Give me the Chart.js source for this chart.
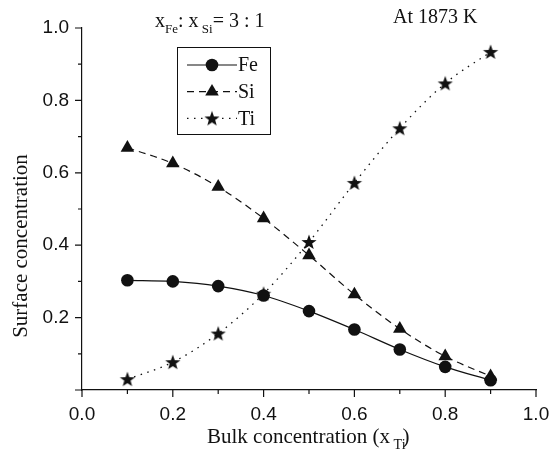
<!DOCTYPE html>
<html>
<head>
<meta charset="utf-8">
<script src="https://cdn.jsdelivr.net/npm/chart.js@4.4.1/dist/chart.umd.min.js"></script>
<style>
  html, body { margin: 0; padding: 0; background: #fff; }
  #wrap { width: 550px; height: 459px; }
</style>
</head>
<body>
<div id="wrap"><canvas id="chart" width="550" height="459"></canvas></div>
<script>
// ===== DATA =====
const bulkTi = [0.1, 0.2, 0.3, 0.4, 0.5, 0.6, 0.7, 0.8, 0.9];
const surfFe = [0.303, 0.300, 0.287, 0.261, 0.218, 0.167, 0.112, 0.064, 0.027];
const surfSi = [0.669, 0.626, 0.561, 0.474, 0.372, 0.264, 0.169, 0.093, 0.038];
const surfTi = [0.030, 0.077, 0.156, 0.266, 0.409, 0.572, 0.723, 0.847, 0.934];
const seriesNames = ['Fe', 'Si', 'Ti'];

const ink = '#111';
const serif = '"Liberation Serif", "Times New Roman", serif';
const sans = '"Liberation Sans", Arial, sans-serif';

// filled five point star used as point style
function makeStar(outer, inner) {
  const c = document.createElement('canvas');
  const s = Math.ceil(outer * 2 + 2);
  c.width = s; c.height = s;
  const g = c.getContext('2d');
  g.fillStyle = ink;
  g.beginPath();
  for (let i = 0; i < 10; i++) {
    const r = i % 2 ? inner : outer;
    const a = -Math.PI / 2 + i * Math.PI / 5;
    const px = s / 2 + r * Math.cos(a), py = s / 2 + 0.6 + r * Math.sin(a);
    i ? g.lineTo(px, py) : g.moveTo(px, py);
  }
  g.closePath();
  g.fill();
  return c;
}
const starImg = makeStar(8, 3.3);

const pts = ys => bulkTi.map((x, i) => ({ x, y: ys[i] }));
const isMajor = v => Math.round(v * 10) % 2 === 0;

function drawMarker(ctx, style, x, y, r) {
  ctx.fillStyle = ink;
  if (style === 'star') { ctx.drawImage(starImg, x - starImg.width / 2, y - starImg.height / 2); return; }
  ctx.beginPath();
  if (style === 'circle') ctx.arc(x, y, r, 0, Math.PI * 2);
  else {
    ctx.moveTo(x, y - r);
    ctx.lineTo(x + r * 0.866, y + r / 2);
    ctx.lineTo(x - r * 0.866, y + r / 2);
    ctx.closePath();
  }
  ctx.fill();
}

// text with subscripts: parts = [[text, isSub], ...]
function drawRich(ctx, parts, x, y, size) {
  parts.forEach(([t, sub]) => {
    ctx.font = (sub ? Math.round(size * 0.65) : size) + 'px ' + serif;
    ctx.fillText(t, x, sub ? y + size * 0.3 : y);
    x += ctx.measureText(t).width;
  });
  return x;
}

const decor = {
  id: 'decor',
  afterDraw(chart) {
    const { ctx, chartArea: a, scales: { x, y } } = chart;
    ctx.save();
    ctx.strokeStyle = ink;
    ctx.lineWidth = 1.2;
    ctx.beginPath();
    x.ticks.forEach(t => {
      const px = x.getPixelForValue(t.value);
      ctx.moveTo(px, a.bottom); ctx.lineTo(px, a.bottom + (isMajor(t.value) ? 7 : 4));
    });
    y.ticks.forEach(t => {
      const py = y.getPixelForValue(t.value);
      ctx.moveTo(a.left, py); ctx.lineTo(a.left - (isMajor(t.value) ? 7 : 4), py);
    });
    ctx.stroke();

    // legend box
    const bx = 177, by = 47, bw = 93, bh = 87;
    ctx.lineWidth = 1;
    ctx.strokeRect(bx + 0.5, by + 0.5, bw, bh);
    chart.data.datasets.forEach((ds, i) => {
      const ry = by + 18 + i * 26.7;
      ctx.setLineDash(ds.borderDash || []);
      ctx.lineWidth = ds.borderWidth;
      ctx.beginPath(); ctx.moveTo(bx + 10, ry); ctx.lineTo(bx + 60, ry); ctx.stroke();
      ctx.setLineDash([]);
      drawMarker(ctx, ds.legendMarker, bx + 35, ry, ds.pointRadius);
      ctx.fillStyle = ink;
      ctx.font = '20px ' + serif;
      ctx.textBaseline = 'middle';
      ctx.fillText(ds.label, bx + 61, ry + 1);
    });

    // annotations and axis titles
    ctx.fillStyle = ink;
    ctx.textBaseline = 'alphabetic';
    drawRich(ctx, [['x', 0], ['Fe', 1], [': x', 0], [' Si', 1], ['= 3 : 1', 0]], 155, 27, 20);
    ctx.font = '20px ' + serif;
    ctx.fillText('At 1873 K', 393, 22.5);

    const end = drawRich(ctx, [['Bulk concentration (x', 0], [' Ti', 1]], 207, 443, 21);
    ctx.font = '21px ' + serif;
    ctx.fillText(')', end - 3, 443);

    ctx.save();
    ctx.translate(26.5, 246);
    ctx.rotate(-Math.PI / 2);
    ctx.textAlign = 'center';
    ctx.fillText('Surface concentration', 0, 0);
    ctx.restore();
    ctx.restore();
  }
};

const axisCommon = {
  type: 'linear',
  min: 0, max: 1,
  grid: { drawOnChartArea: false, drawTicks: false },
  border: { display: true, color: ink, width: 1.2 },
  ticks: {
    stepSize: 0.1,
    color: ink,
    font: { family: sans, size: 19 },
    callback: v => (isMajor(v) ? v.toFixed(1) : '')
  }
};

new Chart(document.getElementById('chart'), {
  type: 'line',
  data: {
    datasets: [
      { label: seriesNames[0], data: pts(surfFe), borderColor: ink, borderWidth: 1.2,
        pointStyle: 'circle', legendMarker: 'circle', pointRadius: 6.3,
        pointBackgroundColor: ink, pointBorderColor: ink, pointBorderWidth: 0,
        cubicInterpolationMode: 'monotone' },
      { label: seriesNames[1], data: pts(surfSi), borderColor: ink, borderWidth: 1.2, borderDash: [7, 5],
        pointStyle: 'triangle', legendMarker: 'triangle', pointRadius: 7.8,
        pointBackgroundColor: ink, pointBorderColor: ink, pointBorderWidth: 0,
        cubicInterpolationMode: 'monotone' },
      { label: seriesNames[2], data: pts(surfTi), borderColor: ink, borderWidth: 1.3, borderDash: [1.5, 5.5],
        pointStyle: starImg, legendMarker: 'star', pointRadius: 7,
        pointBackgroundColor: ink, pointBorderColor: ink, pointBorderWidth: 0,
        cubicInterpolationMode: 'monotone' }
    ]
  },
  options: {
    responsive: false,
    animation: false,
    devicePixelRatio: 1,
    layout: { padding: { top: 28, right: 14, left: 0, bottom: 0 } },
    plugins: { legend: { display: false }, tooltip: { enabled: false } },
    scales: {
      x: Object.assign({}, axisCommon, {
        ticks: Object.assign({}, axisCommon.ticks, { padding: 13, maxRotation: 0, autoSkip: false }),
        afterFit: s => { s.height = 69; s.paddingLeft = 0; s.paddingRight = 0; }
      }),
      y: Object.assign({}, axisCommon, {
        ticks: Object.assign({}, axisCommon.ticks, {
          padding: 13,
          callback: v => (isMajor(v) && v > 0.05 ? v.toFixed(1) : '')
        }),
        afterFit: s => { s.width = 82; s.paddingTop = 0; s.paddingBottom = 0; }
      })
    }
  },
  plugins: [decor]
});
</script>
</body>
</html>
